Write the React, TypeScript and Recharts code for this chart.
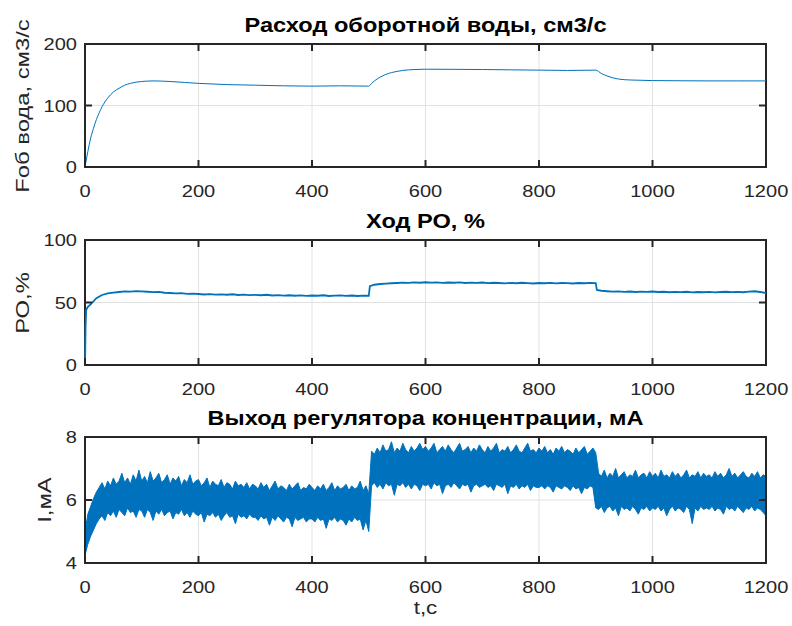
import React from 'react';
import { ComposedChart, Line, Area, XAxis, YAxis, CartesianGrid, ReferenceArea } from 'recharts';

const BLUE = '#0072BD';
const INK = '#262626';
const GRID = '#e2e2e2';
const FONT = '"Liberation Sans", Arial, Helvetica, sans-serif';

const timeTicks = [0, 200, 400, 600, 800, 1000, 1200];

// Расход оборотной воды, см3/с
const flowT = [0, 5, 10, 15, 20, 25, 30, 40, 50, 60, 70, 80, 90, 100, 120, 150, 200, 250, 300, 350, 400, 450, 500,
  505, 510, 520, 530, 540, 550, 560, 580, 600, 650, 700, 750, 800, 850, 900,
  910, 920, 930, 940, 950, 960, 980, 1000, 1050, 1100, 1150, 1200];
const flowV = [0, 25, 47, 63, 77, 88, 98, 112, 122, 128, 133, 136, 138, 139, 140, 139, 136, 134, 133, 132, 131.5, 132, 131.5,
  136, 140, 146, 150.5, 153.5, 155.5, 157, 158.5, 159, 158.8, 158.5, 158, 157.5, 157, 157.5,
  152, 148, 145, 143, 142, 141.5, 141, 140.5, 140.2, 140, 140, 140];

// Ход РО, %
const valveT = [0, 1, 2, 5,
  10, 20, 30, 40, 50, 60, 70, 80, 90, 100, 110, 120, 130, 140, 150, 160, 170, 180, 190, 200,
  210, 220, 230, 240, 250, 260, 270, 280, 290, 300, 310, 320, 330, 340, 350, 360, 370, 380, 390, 400,
  410, 420, 430, 440, 450, 460, 470, 480, 490, 500, 502,
  510, 520, 530, 540, 550, 560, 570, 580, 590, 600, 610, 620, 630, 640, 650, 660, 670, 680, 690, 700,
  710, 720, 730, 740, 750, 760, 770, 780, 790, 800, 810, 820, 830, 840, 850, 860, 870, 880, 890, 900, 902,
  910, 920, 930, 940, 950, 960, 970, 980, 990, 1000, 1010, 1020, 1030, 1040, 1050, 1060, 1070, 1080, 1090, 1100,
  1110, 1120, 1130, 1140, 1150, 1160, 1170, 1180, 1190, 1200];
const valveV = [0, 30, 44, 46.5,
  48.5, 53.5, 56, 57.3, 57.9, 58.4, 58.9, 58.7, 59.1, 58.9, 58.6, 58.3, 58.5, 57.8, 57.6, 57.3, 57.5, 56.9, 57.1, 56.8,
  56.4, 56.7, 56.3, 56.5, 56.2, 56.6, 56.0, 56.3, 55.9, 56.1, 55.8, 56.2, 55.6, 55.9, 55.5, 55.8, 55.4, 55.7, 55.3, 55.6,
  55.4, 55.8, 55.2, 55.5, 55.7, 55.3, 55.6, 55.2, 55.5, 55.4, 63.0,
  64.2, 64.8, 65.1, 65.4, 65.6, 65.9, 65.7, 66.1, 65.8, 66.2, 65.9, 66.1, 65.7, 66.0, 65.8, 66.1, 65.6, 65.9, 65.7, 66.0,
  65.5, 65.8, 65.6, 65.3, 65.7, 65.4, 65.8, 65.5, 65.2, 65.6, 65.4, 65.7, 65.3, 65.6, 65.5, 65.2, 65.6, 65.4, 65.7, 65.5, 60.0,
  59.4, 59.0, 58.7, 58.9, 58.5, 58.8, 58.4, 58.7, 58.5, 58.8, 58.4, 58.6, 58.2, 58.5, 58.3, 58.6, 58.1, 58.4, 58.2, 58.5,
  58.1, 58.4, 58.6, 58.3, 58.5, 58.2, 58.7, 59.0, 58.4, 57.6];

// Выход регулятора концентрации, мА: огибающая шума, отсчёт каждые 5 с
const CURRENT_STEP = 5;
const currentHi = [
  5.0, 5.55, 5.8, 6.05, 6.25, 6.4, 6.55, 6.35, 6.6, 6.45, 6.7, 6.5, 6.6, 6.85, 6.55, 6.7, 6.5, 6.8, 6.6, 6.95,
  6.6, 6.75, 6.55, 6.9, 6.6, 6.7, 6.85, 6.55, 6.65, 6.8, 6.5, 6.7, 6.6, 6.75, 6.45, 6.65, 6.55, 6.8, 6.5, 6.6,
  6.65, 6.45, 6.55, 6.7, 6.4, 6.6, 6.5, 6.45, 6.65, 6.4, 6.55, 6.5, 6.35, 6.6, 6.45, 6.5, 6.4, 6.55, 6.35, 6.5,
  6.45, 6.35, 6.55, 6.4, 6.5, 6.3, 6.45, 6.6, 6.35, 6.45, 6.4, 6.3, 6.5, 6.35, 6.45, 6.55, 6.3, 6.4, 6.35, 6.5,
  6.4, 6.3, 6.45, 6.35, 6.5, 6.3, 6.4, 6.55, 6.3, 6.45, 6.35, 6.4, 6.5, 6.3, 6.45, 6.35, 6.4, 6.6, 6.3, 6.45,
  6.2, 7.55, 7.45, 7.65, 7.5, 7.75, 7.55, 7.6, 7.85, 7.5, 7.65, 7.55, 7.8, 7.6, 7.5, 7.7, 7.55, 7.65, 7.8, 7.6,
  7.7, 7.55, 7.65, 7.8, 7.5, 7.6, 7.7, 7.55, 7.75, 7.6, 7.5, 7.65, 7.8, 7.55, 7.6, 7.7, 7.5, 7.65, 7.55, 7.75,
  7.6, 7.5, 7.7, 7.55, 7.65, 7.8, 7.5, 7.6, 7.55, 7.7, 7.5, 7.6, 7.75, 7.55, 7.5, 7.65, 7.8, 7.55, 7.6, 7.5,
  7.65, 7.55, 7.7, 7.5, 7.6, 7.45, 7.65, 7.55, 7.7, 7.5, 7.6, 7.55, 7.45, 7.65, 7.5, 7.6, 7.7, 7.45, 7.55, 7.65,
  7.5, 6.85, 6.75, 6.95, 6.7, 6.85, 6.75, 7.0, 6.7, 6.8, 6.9, 6.7, 6.8, 6.75, 6.95, 6.7, 6.8, 6.85, 6.7, 6.9,
  6.75, 6.85, 6.7, 6.95, 6.75, 6.8, 6.7, 6.9, 6.75, 6.85, 6.7, 6.8, 6.95, 6.7, 6.8, 6.75, 6.9, 6.7, 6.85, 6.75,
  6.8, 6.7, 6.9, 6.75, 6.85, 6.7, 6.8, 7.0, 6.75, 6.85, 6.7, 6.8, 6.9, 6.75, 6.7, 6.85, 6.75, 6.9, 6.7, 6.8,
  6.75,
];
const currentLo = [
  4.25, 4.6, 4.85, 5.05, 5.25, 5.4, 5.5, 5.35, 5.6, 5.5, 5.65, 5.45, 5.7, 5.6, 5.5, 5.75, 5.6, 5.65, 5.45, 5.7,
  5.65, 5.45, 5.7, 5.6, 5.35, 5.65, 5.55, 5.7, 5.5, 5.6, 5.65, 5.4, 5.6, 5.55, 5.7, 5.5, 5.6, 5.45, 5.65, 5.55,
  5.5, 5.6, 5.3, 5.55, 5.5, 5.6, 5.45, 5.55, 5.35, 5.5, 5.6, 5.45, 5.5, 5.25, 5.55, 5.45, 5.5, 5.4, 5.55, 5.45,
  5.45, 5.35, 5.5, 5.4, 5.45, 5.2, 5.45, 5.35, 5.5, 5.4, 5.3, 5.45, 5.4, 5.15, 5.45, 5.35, 5.4, 5.45, 5.3, 5.4,
  5.4, 5.3, 5.45, 5.35, 5.4, 5.1, 5.4, 5.35, 5.45, 5.3, 5.4, 5.35, 5.2, 5.4, 5.3, 5.45, 5.35, 5.4, 5.05, 5.35,
  5.0, 6.45, 6.55, 6.4, 6.5, 6.35, 6.55, 6.45, 6.5, 6.15, 6.5, 6.45, 6.55, 6.4, 6.5, 6.35, 6.5, 6.45, 6.3, 6.5,
  6.45, 6.5, 6.35, 6.55, 6.45, 6.5, 6.2, 6.45, 6.5, 6.4, 6.55, 6.45, 6.35, 6.5, 6.45, 6.5, 6.25, 6.45, 6.5, 6.4,
  6.45, 6.5, 6.4, 6.45, 6.3, 6.5, 6.45, 6.4, 6.5, 6.2, 6.45, 6.4, 6.5, 6.35, 6.45, 6.4, 6.5, 6.3, 6.45, 6.4,
  6.4, 6.45, 6.35, 6.45, 6.4, 6.25, 6.45, 6.4, 6.35, 6.45, 6.4, 6.3, 6.45, 6.35, 6.4, 6.2, 6.4, 6.35, 6.45, 6.4,
  5.75, 5.7, 5.8, 5.6, 5.75, 5.8, 5.65, 5.75, 5.5, 5.8, 5.7, 5.75, 5.65, 5.8, 5.7, 5.55, 5.75, 5.7, 5.8, 5.65,
  5.75, 5.7, 5.8, 5.65, 5.75, 5.5, 5.7, 5.8, 5.65, 5.75, 5.7, 5.6, 5.8, 5.7, 5.25, 5.75, 5.65, 5.8, 5.7, 5.75,
  5.7, 5.8, 5.65, 5.75, 5.7, 5.55, 5.8, 5.7, 5.75, 5.65, 5.8, 5.7, 5.6, 5.75, 5.7, 5.8, 5.65, 5.75, 5.7, 5.6,
  5.5,
];

const flowData = flowT.map((t, i) => ({ t, v: flowV[i] }));
const valveData = valveT.map((t, i) => ({ t, v: valveV[i] }));
const currentData = currentHi.map((hi, i) => ({ t: i * CURRENT_STEP, range: [currentLo[i], hi] }));

const PLOT_LEFT = 85;
const PLOT_RIGHT = 766;
const PLOT_W = PLOT_RIGHT - PLOT_LEFT;
const TICK = 7;
const TICK_FONT = 17;
const STRETCH = 1.18; // глифы в оригинале шире, чем у Arial

function XTick(props: any) {
  const { x, y, payload, plotH } = props;
  return (
    <g>
      <line x1={x} x2={x} y1={y} y2={y - TICK} stroke={INK} strokeWidth={2} />
      <line x1={x} x2={x} y1={y - plotH} y2={y - plotH + TICK} stroke={INK} strokeWidth={2} />
      <text
        transform={`translate(${x},${y + 30}) scale(${STRETCH},1)`}
        textAnchor="middle"
        fill={INK}
        fontSize={TICK_FONT}
        fontFamily={FONT}
      >
        {payload.value}
      </text>
    </g>
  );
}

function YTick(props: any) {
  const { x, y, payload } = props;
  return (
    <g>
      <line x1={x} x2={x + TICK} y1={y} y2={y} stroke={INK} strokeWidth={2} />
      <line x1={x + PLOT_W} x2={x + PLOT_W - TICK} y1={y} y2={y} stroke={INK} strokeWidth={2} />
      <text
        transform={`translate(${x - 8},${y + 6}) scale(${STRETCH},1)`}
        textAnchor="end"
        fill={INK}
        fontSize={TICK_FONT}
        fontFamily={FONT}
      >
        {payload.value}
      </text>
    </g>
  );
}

interface PanelProps {
  top: number;
  bottom: number;
  title: string;
  yLabel: string;
  yLabelX: number;
  yDomain: [number, number];
  yTicks: number[];
  data: any[];
  children: React.ReactNode;
}

function Panel({ top, bottom, title, yLabel, yLabelX, yDomain, yTicks, data, children }: PanelProps) {
  const plotH = bottom - top;
  return (
    <>
      <div
        style={{
          position: 'absolute', left: PLOT_LEFT, width: PLOT_W, top: top - 31, height: 24, lineHeight: '24px',
          textAlign: 'center', fontWeight: 'bold', fontSize: 20.5, color: '#000', whiteSpace: 'nowrap',
          transform: 'scaleX(1.15)',
        }}
      >
        {title}
      </div>
      <div
        style={{
          position: 'absolute', left: yLabelX, top: (top + bottom) / 2, fontSize: 18.6, color: INK,
          whiteSpace: 'nowrap', lineHeight: '22px',
          transform: 'translate(-50%, -50%) rotate(-90deg) scaleX(1.28)',
        }}
      >
        {yLabel}
      </div>
      <div style={{ position: 'absolute', left: 0, top: top - 10 }}>
        <ComposedChart
          width={792}
          height={plotH + 10 + 34}
          data={data}
          margin={{ top: 10, right: 792 - PLOT_RIGHT, bottom: 0, left: 0 }}
        >
          <CartesianGrid stroke={GRID} strokeWidth={1} />
          <XAxis
            dataKey="t"
            type="number"
            domain={[0, 1200]}
            ticks={timeTicks}
            height={34}
            axisLine={false}
            tickLine={false}
            tickSize={0}
            tickMargin={0}
            interval={0}
            tick={(p: any) => <XTick {...p} plotH={plotH} />}
          />
          <YAxis
            type="number"
            domain={yDomain}
            ticks={yTicks}
            width={PLOT_LEFT}
            axisLine={false}
            tickLine={false}
            tickSize={0}
            tickMargin={0}
            interval={0}
            tick={(p: any) => <YTick {...p} />}
          />
          {children}
          <ReferenceArea
            x1={0}
            x2={1200}
            y1={yDomain[0]}
            y2={yDomain[1]}
            fill="none"
            fillOpacity={0}
            stroke={INK}
            strokeWidth={2}
            strokeOpacity={1}
          />
        </ComposedChart>
      </div>
    </>
  );
}

export default function App() {
  return (
    <div
      style={{
        position: 'absolute', left: 0, top: 0, width: 792, height: 626, background: '#fff',
        fontFamily: FONT, overflow: 'hidden',
      }}
    >
      <Panel
        top={44}
        bottom={167}
        title="Расход оборотной воды, см3/с"
        yLabel="Fоб вода, см3/с"
        yLabelX={23}
        yDomain={[0, 200]}
        yTicks={[0, 100, 200]}
        data={flowData}
      >
        <Line type="monotone" dataKey="v" stroke={BLUE} strokeWidth={1} dot={false} isAnimationActive={false} />
      </Panel>
      <Panel
        top={240}
        bottom={365}
        title="Ход РО, %"
        yLabel="РО,%"
        yLabelX={23}
        yDomain={[0, 100]}
        yTicks={[0, 50, 100]}
        data={valveData}
      >
        <Line type="linear" dataKey="v" stroke={BLUE} strokeWidth={1.8} dot={false} isAnimationActive={false} />
      </Panel>
      <Panel
        top={437}
        bottom={563}
        title="Выход регулятора концентрации, мА"
        yLabel="I,мА"
        yLabelX={45}
        yDomain={[4, 8]}
        yTicks={[4, 6, 8]}
        data={currentData}
      >
        <Area
          type="linear"
          dataKey="range"
          stroke={BLUE}
          strokeWidth={1}
          fill={BLUE}
          fillOpacity={1}
          dot={false}
          activeDot={false}
          isAnimationActive={false}
        />
      </Panel>
      <div
        style={{
          position: 'absolute', left: PLOT_LEFT, width: PLOT_W, top: 596, lineHeight: '24px',
          textAlign: 'center', fontSize: 18.6, color: INK, transform: 'scaleX(1.2)',
        }}
      >
        t,c
      </div>
    </div>
  );
}
